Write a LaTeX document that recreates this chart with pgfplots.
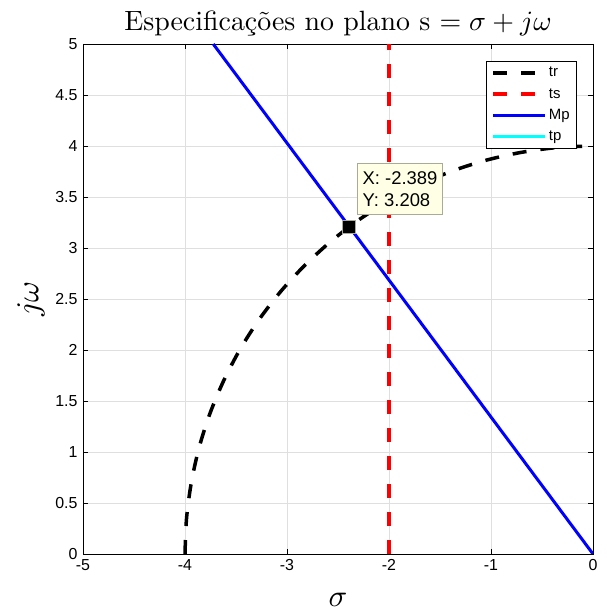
\documentclass[border=0pt]{standalone}
\usepackage{fontspec}
\setsansfont{Liberation Sans}
\usepackage{graphicx}
\usepackage{pgfplots}
\pgfplotsset{compat=1.18}

\definecolor{gridgray}{RGB}{223,223,223}
\definecolor{tipfill}{RGB}{255,255,230}
\definecolor{tipedge}{RGB}{170,170,150}
\definecolor{tpcyan}{RGB}{0,255,255}

% serif text set at 10pt and enlarged, as the LaTeX interpreter does
\newcommand{\enlarged}[2]{\scalebox{#1}{\fontsize{10}{12}\selectfont #2}}

\begin{document}
\begin{tikzpicture}
\begin{axis}[
  scale only axis,
  width=510bp, height=510bp,
  at={(83bp,60bp)}, anchor=south west,
  xmin=-5, xmax=0, ymin=0, ymax=5,
  xtick={-5,-4,...,0},
  ytick={0,0.5,...,5},
  yticklabels={0,0.5,1,1.5,2,2.5,3,3.5,4,4.5,5},
  xticklabels={-5,-4,-3,-2,-1,0},
  tick align=inside,
  major tick length=5bp,
  tick style={black, line width=0.5pt},
  grid=major,
  major grid style={gridgray, line width=0.6pt},
  axis line style={black, line width=0.6pt},
  ticklabel style={font=\sffamily\fontsize{16}{18}\selectfont},
  /pgf/number format/assume math mode=true,
  xticklabel style={yshift=-2bp},
  yticklabel style={xshift=-2bp},
  title={\enlarged{2.8}{Especificações no plano s $=\sigma+j\omega$}},
  title style={yshift=-2bp},
  xlabel={\enlarged{3.1}{$\sigma$}},
  xlabel style={yshift=-16bp},
  ylabel={\enlarged{3.2}{$j\omega$}},
  ylabel style={yshift=4bp},
  legend style={at={(0.9686,0.9667)}, anchor=north east,
    font=\sffamily\fontsize{15}{17}\selectfont,
    draw=black, line width=0.5pt, inner xsep=5bp, inner ysep=4bp,
    row sep=6bp, cells={anchor=west}},
  legend cell align=left,
  legend image code/.code={\draw[#1] (0bp,0bp) -- (52bp,0bp);},
  clip=true,
]
% rise-time boundary: circle of radius 4
\addplot[black, line width=3.5bp, dash pattern=on 14bp off 14bp, smooth] coordinates {
  (-4.000,0.000) (-3.985,0.349) (-3.939,0.695) (-3.864,1.035)
  (-3.759,1.368) (-3.625,1.690) (-3.464,2.000) (-3.277,2.294)
  (-3.064,2.571) (-2.828,2.828) (-2.571,3.064) (-2.294,3.277)
  (-2.000,3.464) (-1.690,3.625) (-1.368,3.759) (-1.035,3.864)
  (-0.695,3.939) (-0.349,3.985) (0.000,4.000)};
\addlegendentry{tr}
% settling-time boundary
\addplot[red, line width=3.5bp, dash pattern=on 14bp off 14bp] coordinates {
  (-2,0) (-2,5)};
\addlegendentry{ts}
% overshoot boundary
\addplot[blue, line width=3bp] coordinates {
  (0,0) (-3.723,5)};
\addlegendentry{Mp}
% peak-time boundary (outside the visible range)
\addplot[tpcyan, line width=3bp] coordinates {
  (-5,6) (0,6)};
\addlegendentry{tp}
% data tip
\addplot[only marks, mark=square*, mark size=6.5bp,
  mark options={fill=black, draw=tipedge, line width=1bp}]
  coordinates {(-2.389,3.208)};
\node[anchor=south west, fill=tipfill, draw=tipedge, line width=0.6pt,
  align=left, inner xsep=5bp, inner ysep=8bp,
  font=\sffamily\fontsize{18.5}{22}\selectfont]
  at (axis cs:-2.389,3.208) [xshift=8bp, yshift=12bp] {X: -2.389\\Y: 3.208};
\end{axis}
\pgfresetboundingbox
\path (0,0) rectangle (607bp,614bp);
\end{tikzpicture}
\end{document}
